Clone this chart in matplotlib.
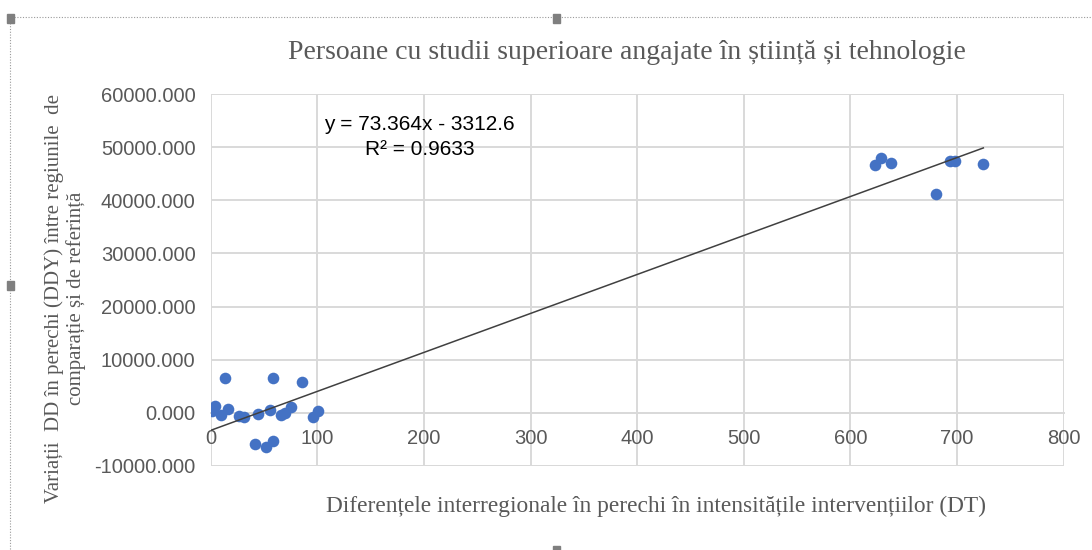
import numpy as np
import matplotlib
matplotlib.use("Agg")
import matplotlib.pyplot as plt
from matplotlib.patches import Rectangle

# values
dt_values = [0.8, 3.9, 9.6, 13, 15.8, 26.8, 31.5, 41.8, 44, 51.7, 55.9, 58, 58.4,
             65.9, 69.7, 75.3, 85.6, 95.6, 101,
             623, 628.6, 638, 680.3, 693.4, 698, 724.7]
ddy_values = [250, 1190, -380, 6450, 700, -700, -810, -5840, -250, -6460, 560, -5270, 6450,
              -380, -60, 1070, 5780, -810, 250,
              46570, 47960, 47020, 41190, 47330, 47330, 46840]
slope = 73.364
intercept = -3312.6
r2 = 0.9633

x_ticks = [0, 100, 200, 300, 400, 500, 600, 700, 800]
y_ticks = [-10000, 0, 10000, 20000, 30000, 40000, 50000, 60000]

serif = ["Liberation Serif", "DejaVu Serif"]
sans = ["Liberation Sans", "DejaVu Sans"]
grey = "#595959"

fig = plt.figure(figsize=(10.92, 5.5), dpi=100)
ax = fig.add_axes([0.193, 0.153, 0.781, 0.676])

ax.set_xlim(0, 800)
ax.set_ylim(-10000, 60000)
ax.set_xticks(x_ticks)
ax.set_yticks(y_ticks)
ax.set_yticklabels([f"{v:.3f}" for v in y_ticks])
ax.grid(True, color="#d9d9d9", linewidth=1.4)
ax.set_axisbelow(True)

for side in ["top", "right", "left"]:
    ax.spines[side].set_visible(False)
ax.spines["bottom"].set_position(("data", 0))
ax.spines["bottom"].set_color("#d9d9d9")
ax.spines["bottom"].set_linewidth(1.4)
ax.tick_params(length=0, labelsize=14.5, labelcolor=grey)
ax.tick_params(axis="y", pad=11)
ax.tick_params(axis="x", pad=12)
for lab in ax.get_xticklabels() + ax.get_yticklabels():
    lab.set_family(sans)

# bottom boundary gridline (axis moved to zero)
ax.axhline(-10000, color="#d9d9d9", linewidth=1.4, zorder=0)

ax.scatter(dt_values, ddy_values, s=70, color="#4472C4", zorder=3, linewidths=0)

xs = np.array([min(dt_values), max(dt_values)])
ax.plot(xs, slope * xs + intercept, color="#404040", linewidth=1.1, zorder=4)

ax.text(196, 52000, f"y = {slope}x - {-intercept}\nR² = {r2}", ha="center", va="center",
        fontsize=15, family=sans, color="black", linespacing=1.4, zorder=5)

fig.text(0.574, 0.905, "Persoane cu studii superioare angajate în știință și tehnologie",
         ha="center", va="center", fontsize=20, family=serif, color=grey)
fig.text(0.601, 0.080, "Diferențele interregionale în perechi în intensitățile intervențiilor (DT)",
         ha="center", va="center", fontsize=16.8, family=serif, color=grey)
fig.text(0.060, 0.458, "Variații  DD în perechi (DDY) între regiunile  de\ncomparație și de referință",
         ha="center", va="center", rotation=90, fontsize=15, family=serif, color=grey,
         linespacing=1.15)

# selection frame of the embedded chart
fig.patches.append(Rectangle((0.009, -0.02), 1.2, 0.99, transform=fig.transFigure, fill=False,
                             edgecolor="#9a9a9a", linestyle=(0, (1, 1.5)), linewidth=0.8))
for hx, hy in [(0.009, 0.968), (0.509, 0.968), (0.009, 0.482), (0.509, 0.0)]:
    fig.patches.append(Rectangle((hx - 0.003, hy - 0.009), 0.007, 0.016,
                                 transform=fig.transFigure, color="#7f7f7f"))

fig.savefig("out.png", dpi=100)
